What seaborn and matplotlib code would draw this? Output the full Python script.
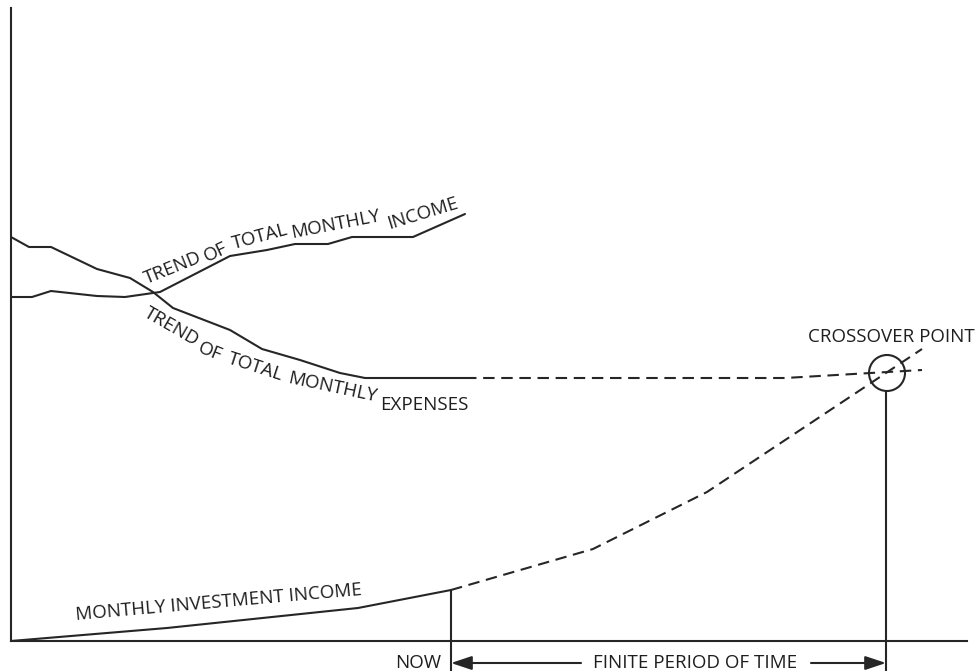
import pandas as pd
import numpy as np
import seaborn as sns
import matplotlib.pyplot as plt
from matplotlib.patches import Circle

sns.set_style("white")
plt.rcParams['font.family'] = ['Open Sans', 'DejaVu Sans']

# values (x = time, y = amount per month)
exp_x = [0, 1.8, 4.0, 8.6, 11.9, 14.2, 16.2, 21.9, 25.1, 28.9, 32.9, 35.4, 45.4]
exp_y = [40.4, 39.4, 39.4, 37.2, 36.3, 34.9, 33.3, 31.1, 29.2, 28.1, 26.8, 26.3, 26.3]
exp_proj_x = [45.4, 77.4, 91.1]
exp_proj_y = [26.3, 26.3, 27.1]
inc_x = [0, 2.1, 4.0, 8.6, 11.4, 14.9, 21.9, 25.6, 28.4, 31.7, 34.1, 40.2, 45.4]
inc_y = [34.4, 34.4, 35.0, 34.5, 34.4, 34.9, 38.5, 39.1, 39.7, 39.7, 40.4, 40.4, 42.7]
inv_x = [0, 15.6, 34.7, 44.0]
inv_y = [0, 1.3, 3.3, 5.1]
inv_proj_x = [44.0, 58.2, 69.6, 91.1]
inv_proj_y = [5.1, 9.2, 14.9, 29.2]
now_x = 44.0
cross_x, cross_y = 87.6, 26.8

col = '#262626'
lw = 1.5
fig = plt.figure(figsize=(9.77, 6.71), dpi=100)
ax = fig.add_axes([11/977, 30/671, 956/977, 633/671])

def draw(x, y, dashed=False):
    d = pd.DataFrame({'x': x, 'y': y})
    l = sns.lineplot(data=d, x='x', y='y', sort=False, ax=ax, color=col, lw=lw, estimator=None)
    if dashed:
        l.lines[-1].set_dashes((5.5, 3.2))

draw(exp_x, exp_y)
draw(exp_proj_x, exp_proj_y, True)
draw(inc_x, inc_y)
draw(inv_x, inv_y)
draw(inv_proj_x, inv_proj_y, True)

ax.set_xlim(0, 95.6)
ax.set_ylim(0, 63.3)
ax.set_xticks([])
ax.set_yticks([])
ax.set_xlabel("")
ax.set_ylabel("")
for s in ['top', 'right']:
    ax.spines[s].set_visible(False)
for s in ['left', 'bottom']:
    ax.spines[s].set_color(col)
    ax.spines[s].set_linewidth(lw)

# crossover marker and the "now" / crossover drop lines
ax.add_patch(Circle((cross_x, cross_y), 1.8, fill=False, ec=col, lw=lw))
ax.plot([now_x, now_x], [inv_y[-1], -3.0], color=col, lw=lw, clip_on=False)
ax.plot([cross_x - 0.1, cross_x - 0.1], [cross_y - 1.8, -3.0], color=col, lw=lw, clip_on=False)

ap = dict(arrowstyle='-|>,head_length=0.9,head_width=0.3', mutation_scale=14, lw=lw,
          color=col, shrinkA=0, shrinkB=0)
ax.annotate('', xy=(now_x, -2.2), xytext=(57.0, -2.2), arrowprops=ap, annotation_clip=False)
ax.annotate('', xy=(cross_x - 0.1, -2.2), xytext=(80.0, -2.2), arrowprops=ap, annotation_clip=False)

fs = 13.5
tc = '#1e1e1e'
ax.text(68.4, -2.2, 'FINITE PERIOD OF TIME', ha='center', va='center', fontsize=fs, color=tc, clip_on=False)
ax.text(43.0, -2.2, 'NOW', ha='right', va='center', fontsize=fs, color=tc, clip_on=False)
ax.text(88.0, 30.4, 'CROSSOVER POINT', ha='center', va='center', fontsize=fs, color=tc, clip_on=False)
ax.text(20.8, 3.9, 'MONTHLY INVESTMENT INCOME', ha='center', va='center', rotation=5,
        rotation_mode='anchor', fontsize=fs, color=tc)

# labels following the income / expense trends
inc_words = [('TREND', 16.2, 37.3, 22), ('OF', 20.5, 38.9, 25), ('TOTAL', 24.9, 40.4, 15),
             ('MONTHLY', 32.5, 41.7, 11), ('INCOME', 41.2, 42.8, 17)]
exp_words = [('TREND', 16.1, 31.4, -30), ('OF', 19.9, 28.9, -22), ('TOTAL', 24.5, 27.4, -18),
             ('MONTHLY', 32.1, 25.3, -12), ('EXPENSES', 41.3, 23.6, 0)]
for w, x, y, r in inc_words + exp_words:
    ax.text(x, y, w, ha='center', va='center', rotation=r, rotation_mode='anchor',
            fontsize=fs, color=tc)

plt.savefig("out.png", dpi=100)
